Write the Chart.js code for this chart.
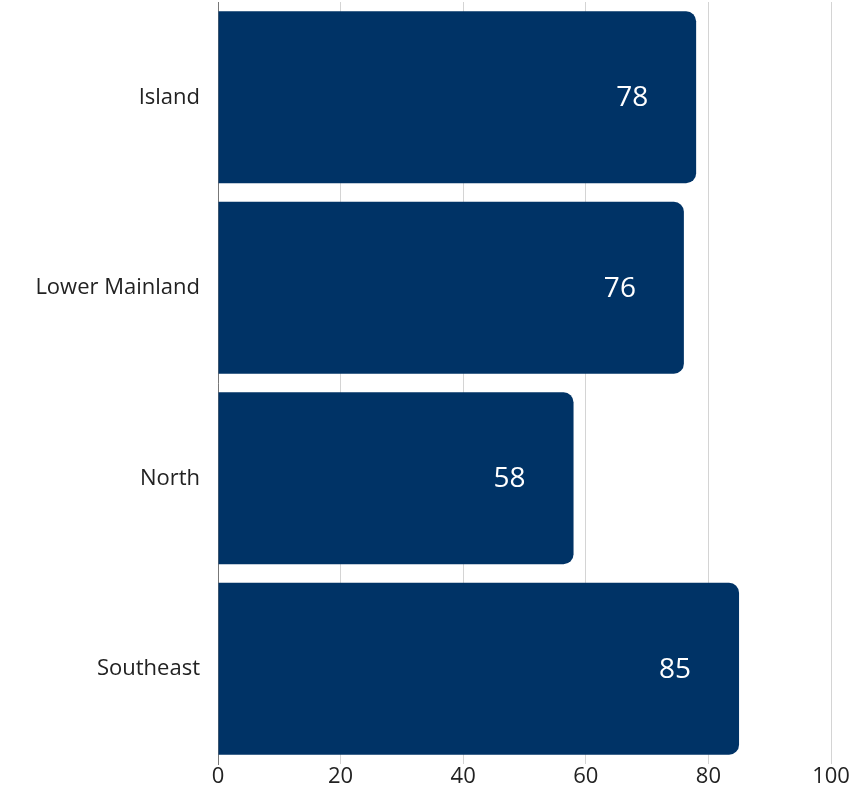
<!DOCTYPE html>
<html>
<head>
<meta charset="utf-8">
<script src="https://cdn.jsdelivr.net/npm/chart.js@4"></script>
<style>
  html, body { margin: 0; padding: 0; background: #fff; }
  canvas { display: block; }
</style>
</head>
<body>
<canvas id="chart" width="854" height="787"></canvas>
<script>
const regions = ["Island", "Lower Mainland", "North", "Southeast"];
const scores = [78, 76, 58, 85];
const xTicks = [0, 20, 40, 60, 80, 100];

const FONT = "'Open Sans', sans-serif";
const NAVY = "#003366";

// white value labels drawn inside the end of each bar
const valueLabels = {
  id: "valueLabels",
  afterDatasetsDraw(chart) {
    const ctx = chart.ctx;
    const meta = chart.getDatasetMeta(0);
    ctx.save();
    ctx.fillStyle = "#ffffff";
    ctx.font = "28px " + FONT;
    ctx.textAlign = "center";
    ctx.textBaseline = "middle";
    meta.data.forEach((bar, i) => {
      ctx.fillText(String(scores[i]), bar.x - 64, bar.y + 1);
    });
    ctx.restore();
  },
};

new Chart(document.getElementById("chart"), {
  type: "bar",
  data: {
    labels: regions,
    datasets: [
      {
        data: scores,
        backgroundColor: NAVY,
        borderRadius: 10,
        borderSkipped: "start",
        barPercentage: 0.95,
        categoryPercentage: 0.95,
      },
    ],
  },
  options: {
    indexAxis: "y",
    responsive: false,
    animation: false,
    layout: { padding: { top: 2, right: 23, left: 0, bottom: 0 } },
    plugins: {
      legend: { display: false },
      tooltip: { enabled: false },
    },
    scales: {
      x: {
        min: 0,
        max: 100,
        afterBuildTicks: (scale) => {
          scale.ticks = xTicks.map((v) => ({ value: v }));
        },
        afterFit: (scale) => {
          scale.height = 23;
        },
        grid: { color: "#d4d4d4", drawTicks: false },
        border: { display: false },
        ticks: {
          color: "#222",
          padding: 2,
          font: { family: FONT, size: 22, lineHeight: 1 },
        },
      },
      y: {
        afterFit: (scale) => {
          scale.width = 218;
          scale.paddingTop = 0;
          scale.paddingBottom = 0;
        },
        grid: { display: false, drawTicks: false },
        border: { display: true, color: "#777", width: 1 },
        ticks: {
          color: "#222",
          padding: 18,
          font: { family: FONT, size: 22 },
        },
      },
    },
  },
  plugins: [valueLabels],
});
</script>
</body>
</html>
